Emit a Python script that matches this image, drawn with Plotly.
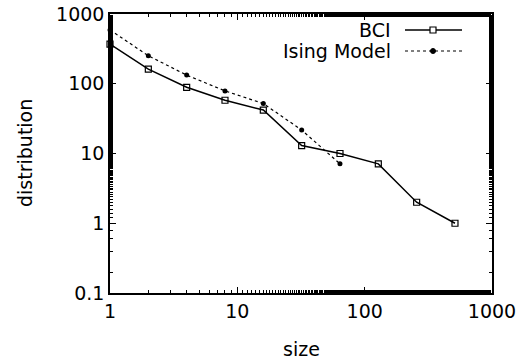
import plotly.graph_objects as go

# Data
bci_size = [1, 2, 4, 8, 16, 32, 64, 128, 256, 512]
bci_dist = [370, 162, 89, 58, 42, 13, 10, 7.1, 2.0, 1.0]
ising_size = [1, 2, 4, 8, 16, 32, 64]
ising_dist = [590, 252, 133, 79, 52, 21.7, 7.1]

x_ticks = [1, 10, 100, 1000]
y_ticks = [0.1, 1, 10, 100, 1000]

FONT = "DejaVu Sans, Liberation Sans, Arial, sans-serif"
FS = 19
W, H = 517, 362
ML, MR, MT, MB = 110, 25, 14, 69
PW, PH = W - ML - MR, H - MT - MB

def px(xp):
    return (xp - ML) / PW

def py(yp):
    return 1 - (yp - MT) / PH

fig = go.Figure()
fig.add_trace(go.Scatter(
    x=bci_size, y=bci_dist, mode="lines+markers", name="BCI",
    line=dict(color="black", width=1.5),
    marker=dict(symbol="square-open", size=6, color="black", line=dict(width=1.2)),
    showlegend=False, cliponaxis=False,
))
fig.add_trace(go.Scatter(
    x=ising_size, y=ising_dist, mode="lines+markers", name="Ising Model",
    line=dict(color="black", width=1.2, dash="dot"),
    marker=dict(symbol="circle", size=5, color="black"),
    showlegend=False, cliponaxis=False,
))

axis_common = dict(
    type="log", showgrid=False, zeroline=False, showline=True, linecolor="black",
    linewidth=1.5, mirror="ticks", ticks="inside", ticklen=6, tickcolor="black",
    tickwidth=1, tickfont=dict(family=FONT, size=FS, color="black"),
    minor=dict(ticks="inside", ticklen=3, tickcolor="black", showgrid=False),
    automargin=False,
)

fig.update_xaxes(
    **axis_common, range=[0, 3], tickvals=x_ticks, ticktext=[str(v) for v in x_ticks],
)
fig.update_yaxes(
    **axis_common, range=[-1, 3], tickvals=y_ticks, ticktext=[str(v) for v in y_ticks],
)

shapes = []
annotations = [
    dict(x=px(301), y=py(349), xref="paper", yref="paper", text="size", showarrow=False,
         xanchor="center", yanchor="middle", font=dict(family=FONT, size=FS, color="black")),
    dict(x=px(25), y=py(153), xref="paper", yref="paper", text="distribution", showarrow=False,
         textangle=-90, xanchor="center", yanchor="middle",
         font=dict(family=FONT, size=FS, color="black")),
]

# gnuplot-style key: label on left, sample on right
for label, yp, dash, sym in [("BCI", 30, "solid", "square"), ("Ising Model", 51, "dot", "circle")]:
    annotations.append(dict(
        x=px(393), y=py(yp), xref="paper", yref="paper", text=label, showarrow=False,
        xanchor="right", yanchor="middle", font=dict(family=FONT, size=FS, color="black"),
    ))
    shapes.append(dict(
        type="line", xref="paper", yref="paper", x0=px(405), x1=px(462), y0=py(yp), y1=py(yp),
        line=dict(color="black", width=1.5 if dash == "solid" else 1.2, dash=dash),
    ))
    if sym == "square":
        shapes.append(dict(
            type="rect", xref="paper", yref="paper", xsizemode="pixel", ysizemode="pixel",
            xanchor=px(433), yanchor=py(yp), x0=-3, x1=3, y0=-3, y1=3,
            line=dict(color="black", width=1.2), fillcolor="white",
        ))
    else:
        shapes.append(dict(
            type="circle", xref="paper", yref="paper", xsizemode="pixel", ysizemode="pixel",
            xanchor=px(433), yanchor=py(yp), x0=-2.5, x1=2.5, y0=-2.5, y1=2.5,
            line=dict(color="black", width=1), fillcolor="black",
        ))

fig.update_layout(
    width=W, height=H, margin=dict(l=ML, r=MR, t=MT, b=MB),
    paper_bgcolor="white", plot_bgcolor="white",
    shapes=shapes, annotations=annotations,
    font=dict(family=FONT, color="black"),
)

fig.write_html(
    "out.html",
    config={"displayModeBar": False},
    post_script="document.body.style.margin='0';document.body.style.overflow='hidden';",
)
